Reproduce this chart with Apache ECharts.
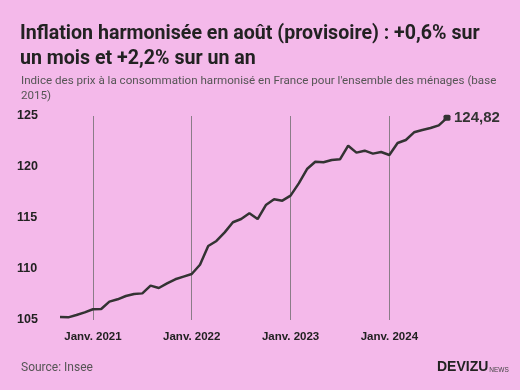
<!DOCTYPE html>
<html>
<head>
<meta charset="utf-8">
<script src="https://cdn.jsdelivr.net/npm/echarts@6/dist/echarts.min.js"></script>
<style>
html,body{margin:0;padding:0;background:#F4B9EA;}
#chart{width:520px;height:390px;}
</style>
</head>
<body>
<div id="chart"></div>
<script>
const titleText = "Inflation harmonisée en août (provisoire) : +0,6% sur\nun mois et +2,2% sur un an";
const subtitleText = "Indice des prix à la consommation harmonisé en France pour l'ensemble des ménages (base\n2015)";
const sourceText = "Source: Insee";

const months = [
  "2020-09","2020-10","2020-11","2020-12",
  "2021-01","2021-02","2021-03","2021-04","2021-05","2021-06","2021-07","2021-08","2021-09","2021-10","2021-11","2021-12",
  "2022-01","2022-02","2022-03","2022-04","2022-05","2022-06","2022-07","2022-08","2022-09","2022-10","2022-11","2022-12",
  "2023-01","2023-02","2023-03","2023-04","2023-05","2023-06","2023-07","2023-08","2023-09","2023-10","2023-11","2023-12",
  "2024-01","2024-02","2024-03","2024-04","2024-05","2024-06","2024-07","2024-08"
];
const hicp = [
  105.29,105.26,105.49,105.75,
  106.05,106.08,106.80,107.03,107.35,107.55,107.61,108.37,108.14,108.59,108.99,109.25,
  109.51,110.42,112.25,112.75,113.59,114.58,114.90,115.46,114.90,116.27,116.83,116.70,
  117.19,118.40,119.80,120.52,120.46,120.69,120.75,122.09,121.41,121.60,121.31,121.47,
  121.18,122.35,122.65,123.40,123.63,123.82,124.08,124.82
];
const tickMonths = ["2021-01","2022-01","2023-01","2024-01"];
const tickLabels = ["Janv. 2021","Janv. 2022","Janv. 2023","Janv. 2024"];
const lastLabel = "124,82";

const chart = echarts.init(document.getElementById('chart'), null, {renderer:'canvas'});
const lastIdx = hicp.length - 1;
chart.setOption({
  backgroundColor: '#F4B9EA',
  animation: false,
  title: [
    {text: titleText, left: 15, top: 17,
     textStyle:{fontFamily:'Roboto', fontWeight:'bold', fontSize:19.6, lineHeight:24.5, color:'#222'}},
    {text: subtitleText, left: 16, top: 69,
     textStyle:{fontFamily:'Roboto', fontWeight:'normal', fontSize:11.6, lineHeight:14.5, color:'#555'}},
    {text: sourceText, left: 16, top: 357,
     textStyle:{fontFamily:'Roboto', fontWeight:'normal', fontSize:12, color:'#555'}}
  ],
  graphic: [
    {type:'text', left: 437, top: 360,
     style:{text:'{a|DEVIZU}{b|NEWS}', rich:{
       a:{fontFamily:'Liberation Sans', fontWeight:'bold', fontSize:14, fill:'#222', verticalAlign:'bottom'},
       b:{fontFamily:'Liberation Sans', fontSize:6.5, fill:'#444', verticalAlign:'bottom', padding:[0,0,0,1]}
     }}}
  ],
  grid: {left: 60, right: 73, top: 116, bottom: 70},
  xAxis: {
    type: 'category', data: months, boundaryGap: false,
    axisLine:{show:false}, axisTick:{show:false},
    axisLabel:{
      interval: (i, v) => tickMonths.indexOf(v) >= 0,
      formatter: v => tickLabels[tickMonths.indexOf(v)] || '',
      fontFamily:'Liberation Sans', fontWeight:'bold', fontSize:11.5, color:'#222', margin: 11
    },
    splitLine:{show:true, interval: (i, v) => tickMonths.indexOf(v) >= 0,
      lineStyle:{color:'#8a7d88', width:1}}
  },
  yAxis: {
    type: 'value', min: 105, max: 125, interval: 5,
    axisLine:{show:false}, axisTick:{show:false}, splitLine:{show:false},
    axisLabel:{fontFamily:'Liberation Sans', fontWeight:'bold', fontSize:12.5, color:'#222',
      align:'left', margin: 43}
  },
  series: [{
    type: 'line', data: hicp,
    symbol: 'roundRect',
    symbolSize: (v, p) => p.dataIndex === lastIdx ? [7, 6] : 0,
    showAllSymbol: true,
    lineStyle:{color:'#333', width:2.5},
    itemStyle:{color:'#333'},
    endLabel:{show:true, formatter: lastLabel, distance: 7,
      fontFamily:'Liberation Sans', fontWeight:'bold', fontSize:15, color:'#333'},
    emphasis:{disabled:true}
  }]
});
</script>
</body>
</html>
